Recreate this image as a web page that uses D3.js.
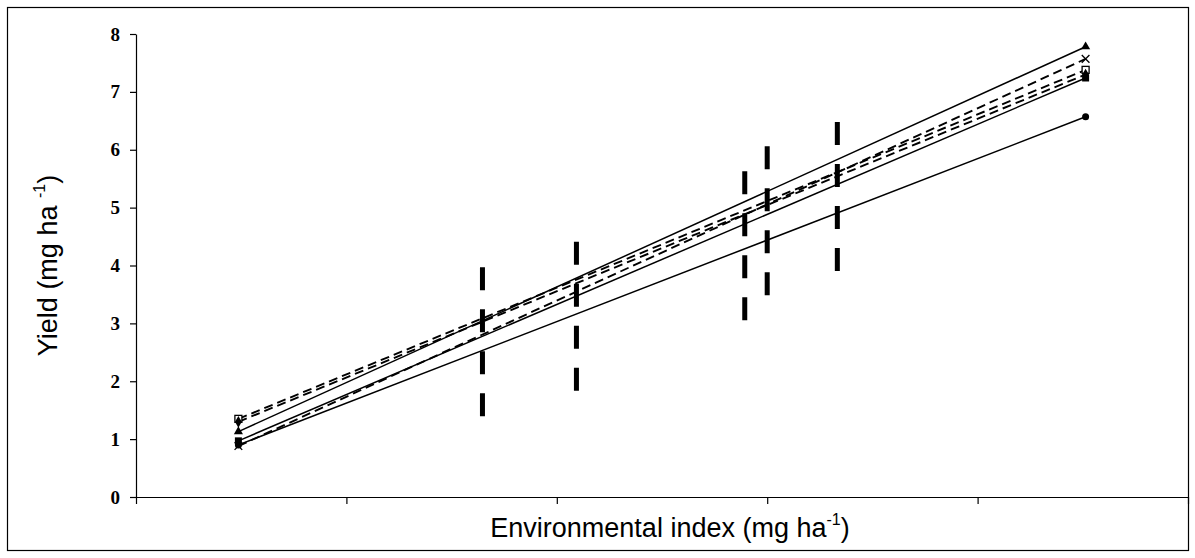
<!DOCTYPE html>
<html>
<head>
<meta charset="utf-8">
<script src="https://cdn.jsdelivr.net/npm/d3@7"></script>
<style>
  html, body { margin: 0; padding: 0; background: #fff; }
  svg { display: block; }
</style>
</head>
<body>
<svg id="chart" width="1195" height="558"></svg>
<script>
// Environmental index at the lowest and highest environment
const envEnds = [1.23, 7.27];

// Genotype regression lines: yield at the two extreme environments
const seriesNames = ["G1", "G2", "G3", "G4", "G5", "G6"];
const yieldLow  = [1.13, 0.88, 1.35, 0.97, 1.30, 0.90];
const yieldHigh = [7.78, 7.57, 7.38, 7.24, 7.30, 6.57];
const lineDashed = [false, true, true, false, true, false];
const markerType = ["triangle", "cross", "squareOpen", "square", "diamond", "circle"];

// Intermediate environments: vertical range bars
const barEnv  = [2.97, 3.64, 4.84, 5.00, 5.50];
const barLow  = [1.38, 1.81, 3.02, 3.44, 3.89];
const barHigh = [3.97, 4.41, 5.63, 6.06, 6.48];

// Axis ticks
const yTicks = [0, 1, 2, 3, 4, 5, 6, 7, 8];
const xTicks = [0.5, 2, 3.5, 5, 6.5, 8];

const svg = d3.select("#chart");

// outer frame
svg.append("rect")
  .attr("x", 7.5).attr("y", 7.5)
  .attr("width", 1181).attr("height", 543)
  .attr("fill", "none").attr("stroke", "#000").attr("stroke-width", 1.2);

const x = d3.scaleLinear().domain([0.5, 8]).range([136, 1188]);
const y = d3.scaleLinear().domain([0, 8]).range([497, 34]);

// y axis
const yAxis = svg.append("g")
  .attr("transform", `translate(${x(0.5)},0)`)
  .call(d3.axisLeft(y).tickValues(yTicks).tickSize(6).tickSizeOuter(0).tickFormat(d3.format("d")));
yAxis.selectAll("text")
  .attr("font-family", "'Liberation Serif', 'Times New Roman', serif")
  .attr("font-weight", "bold")
  .attr("font-size", 19)
  .attr("fill", "#000")
  .attr("x", -16);

// x axis
const xAxis = svg.append("g")
  .attr("transform", `translate(0,${y(0)})`)
  .call(d3.axisBottom(x).tickValues(xTicks).tickSize(7).tickSizeOuter(0).tickFormat(() => ""));

svg.selectAll(".domain, .tick line").attr("stroke", "#000").attr("stroke-width", 1.2);

// range bars
barEnv.forEach((e, i) => {
  svg.append("line")
    .attr("x1", x(e)).attr("x2", x(e))
    .attr("y1", y(barHigh[i])).attr("y2", y(barLow[i]))
    .attr("stroke", "#000").attr("stroke-width", 5)
    .attr("stroke-dasharray", "23,19");
});

// regression lines
const line = d3.line().x(d => x(d[0])).y(d => y(d[1]));
seriesNames.forEach((name, i) => {
  const pts = [[envEnds[0], yieldLow[i]], [envEnds[1], yieldHigh[i]]];
  svg.append("path")
    .datum(pts)
    .attr("d", line)
    .attr("fill", "none")
    .attr("stroke", "#000")
    .attr("stroke-width", lineDashed[i] ? 1.9 : 1.5)
    .attr("stroke-dasharray", lineDashed[i] ? "9,5" : null);
});

// end markers
function drawMarker(type, cx, cy) {
  const s = 7;
  if (type === "triangle") {
    svg.append("path").attr("d", d3.symbol(d3.symbolTriangle, 36)())
      .attr("transform", `translate(${cx},${cy})`).attr("fill", "#000");
  } else if (type === "cross") {
    svg.append("path").attr("d", d3.symbol(d3.symbolX, 40)())
      .attr("transform", `translate(${cx},${cy})`).attr("fill", "none").attr("stroke", "#000").attr("stroke-width", 1.3);
  } else if (type === "squareOpen") {
    svg.append("rect").attr("x", cx - s / 2).attr("y", cy - s / 2).attr("width", s).attr("height", s)
      .attr("fill", "#fff").attr("stroke", "#000").attr("stroke-width", 1.3);
  } else if (type === "square") {
    svg.append("rect").attr("x", cx - s / 2).attr("y", cy - s / 2).attr("width", s).attr("height", s)
      .attr("fill", "#000");
  } else if (type === "diamond") {
    svg.append("path").attr("d", d3.symbol(d3.symbolDiamond, 40)())
      .attr("transform", `translate(${cx},${cy})`).attr("fill", "#000");
  } else if (type === "circle") {
    svg.append("circle").attr("cx", cx).attr("cy", cy).attr("r", 3.5).attr("fill", "#000");
  }
}
seriesNames.forEach((name, i) => {
  drawMarker(markerType[i], x(envEnds[0]), y(yieldLow[i]));
  drawMarker(markerType[i], x(envEnds[1]), y(yieldHigh[i]));
});

// axis titles
const yTitle = svg.append("text")
  .attr("transform", `translate(57,${(y(0) + y(8)) / 2}) rotate(-90)`)
  .attr("text-anchor", "middle")
  .attr("font-family", "'Liberation Sans', Arial, sans-serif")
  .attr("font-size", 27)
  .attr("fill", "#000");
yTitle.append("tspan").text("Yield (mg ha ");
yTitle.append("tspan").attr("font-size", 16).attr("dy", -12).text("-1");
yTitle.append("tspan").attr("dy", 12).text(")");

const xTitle = svg.append("text")
  .attr("x", (x(0.5) + x(8)) / 2 + 8)
  .attr("y", 537)
  .attr("text-anchor", "middle")
  .attr("font-family", "'Liberation Sans', Arial, sans-serif")
  .attr("font-size", 27)
  .attr("fill", "#000");
xTitle.append("tspan").text("Environmental index (mg ha");
xTitle.append("tspan").attr("font-size", 16).attr("dy", -12).text("-1");
xTitle.append("tspan").attr("dy", 12).text(")");
</script>
</body>
</html>
